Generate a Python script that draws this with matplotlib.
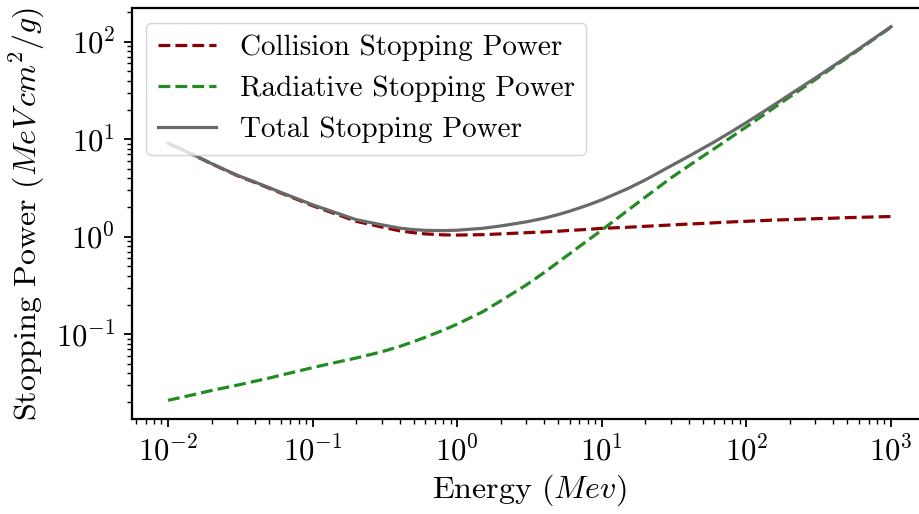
import numpy as np
import matplotlib
matplotlib.use("Agg")
import matplotlib.pyplot as plt

plt.rcParams['font.family'] = 'serif'
plt.rcParams['font.serif'] = ['cmr10']
plt.rcParams['mathtext.fontset'] = 'cm'
plt.rcParams['axes.formatter.use_mathtext'] = True
plt.rcParams['axes.unicode_minus'] = False
plt.rcParams['axes.linewidth'] = 1.6

# Electron stopping power in lead (MeV cm^2/g)
energy = np.array([0.01, 0.015, 0.02, 0.03, 0.04, 0.05, 0.06, 0.08, 0.1, 0.15,
                   0.2, 0.3, 0.4, 0.5, 0.6, 0.8, 1, 1.5, 2, 3,
                   4, 5, 6, 8, 10, 15, 20, 30, 40, 50,
                   60, 80, 100, 150, 200, 300, 400, 500, 600, 800, 1000])

collision = np.array([9.1, 6.9, 5.6, 4.25, 3.6, 3.15, 2.82, 2.38, 2.08, 1.68,
                      1.44, 1.26, 1.15, 1.10, 1.07, 1.045, 1.04, 1.05, 1.07, 1.10,
                      1.12, 1.14, 1.16, 1.19, 1.22, 1.25, 1.28, 1.32, 1.35, 1.37,
                      1.39, 1.42, 1.44, 1.48, 1.50, 1.53, 1.55, 1.57, 1.58, 1.60, 1.61])

radiative = np.array([0.021, 0.024, 0.0265, 0.030, 0.033, 0.0355, 0.038, 0.042, 0.0455, 0.052,
                      0.057, 0.066, 0.075, 0.084, 0.093, 0.11, 0.127, 0.17, 0.22, 0.32,
                      0.43, 0.55, 0.67, 0.92, 1.17, 1.85, 2.55, 4.0, 5.35, 6.7,
                      8.0, 10.7, 13.4, 20.3, 27.3, 41.0, 55.0, 69.0, 83.0, 112.0, 141.0])

total = collision + radiative

fig = plt.figure(figsize=(9.19, 5.14), dpi=100)
ax = fig.add_axes([0.1435, 0.1848, 0.8654, 0.7996])

ax.plot(energy, collision, '--', color='darkred', lw=2.3, label='Collision Stopping Power')
ax.plot(energy, radiative, '--', color='forestgreen', lw=2.3, label='Radiative Stopping Power')
ax.plot(energy, total, '-', color='dimgray', lw=2.3, label='Total Stopping Power')

ax.set_xscale('log')
ax.set_yscale('log')
ax.set_xlabel(r'Energy $(Mev)$', fontsize=23, labelpad=4)
ax.set_ylabel(r'Stopping Power $(MeV\,cm^2/g)$', fontsize=23, labelpad=6)
ax.tick_params(which='major', labelsize=22, length=6, width=1.3, pad=6)
ax.tick_params(which='minor', length=3.5, width=1.0)
ax.legend(loc='upper left', fontsize=21)

fig.savefig('out.png', dpi=100)
